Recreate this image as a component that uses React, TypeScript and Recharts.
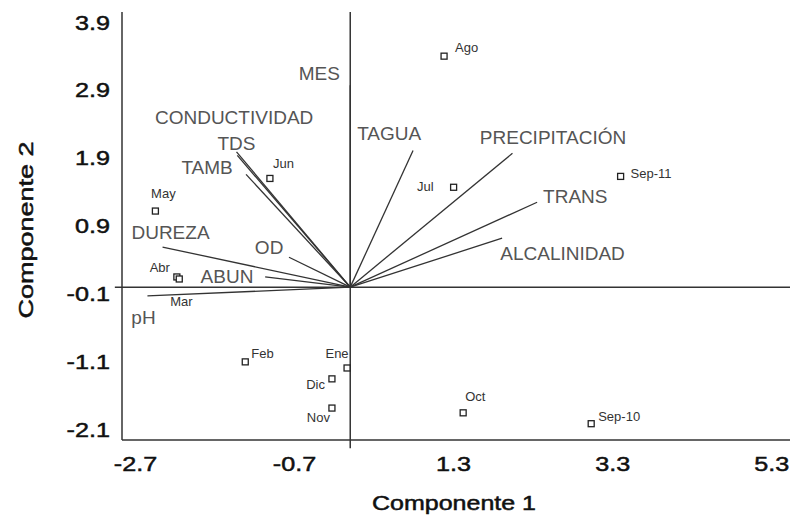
import {
  ScatterChart,
  Scatter,
  XAxis,
  YAxis,
  ReferenceLine,
  Label,
} from "recharts";

// sample scores (Componente 1, Componente 2)
const months = ["Ago", "Jun", "May", "Abr", "Mar", "Jul", "Sep-11", "Feb", "Ene", "Dic", "Nov", "Oct", "Sep-10"];
const comp1 = [1.18, -1.01, -2.45, -2.18, -2.15, 1.3, 3.4, -1.32, -0.04, -0.23, -0.23, 1.42, 3.03];
const comp2 = [3.4, 1.6, 1.12, 0.15, 0.12, 1.47, 1.63, -1.1, -1.19, -1.35, -1.78, -1.85, -2.01];

// variable loadings
const variables = ["MES", "CONDUCTIVIDAD", "TDS", "TAMB", "DUREZA", "OD", "ABUN", "pH", "TAGUA", "PRECIPITACIÓN", "TRANS", "ALCALINIDAD"];
const load1 = [0, -1.43, -1.42, -1.31, -2.36, -0.77, -1.07, -2.55, 0.79, 2.04, 2.35, 1.91];
const load2 = [2.97, 1.99, 1.94, 1.66, 0.59, 0.44, 0.15, -0.13, 2.01, 1.97, 1.25, 0.72];

// where the variable names sit (in chart units)
const labelX = [-0.39, -1.46, -1.43, -1.8, -2.26, -1.02, -1.55, -2.6, 0.49, 2.55, 2.83, 2.67];
const labelY = [3.15, 2.5, 2.12, 1.76, 0.81, 0.59, 0.16, -0.44, 2.26, 2.21, 1.34, 0.5];

const xTicks = [-2.7, -0.7, 1.3, 3.3, 5.3];
const yTicks = [3.9, 2.9, 1.9, 0.9, -0.1, -1.1, -2.1];

const points = months.map((name, i) => ({ name, x: comp1[i], y: comp2[i] }));
const varLabels = variables.map((name, i) => ({ name, x: labelX[i], y: labelY[i] }));

// label offset from the marker: dx, dy, anchor
const pointLabelOffset: Record<string, [number, number, string]> = {
  Ago: [11, -9, "start"],
  Jun: [3, -15, "start"],
  May: [8, -18, "middle"],
  Abr: [-7, -9, "end"],
  Mar: [-9, 23, "start"],
  Jul: [-20, -1, "end"],
  "Sep-11": [10, -3, "start"],
  Feb: [6, -8, "start"],
  Ene: [-10, -14, "middle"],
  Dic: [-7, 6, "end"],
  Nov: [-2, 9, "end"],
  Oct: [2, -16, "start"],
  "Sep-10": [7, -7, "start"],
};

const FONT = "'Liberation Sans', Arial, sans-serif";

const renderPoint = (props: any) => {
  const { cx, cy, payload } = props;
  const o = pointLabelOffset[payload.name] || [6, -6, "start"];
  return (
    <g>
      <rect x={cx - 3} y={cy - 3} width={6} height={6} fill="#fff" stroke="#222" strokeWidth={1.3} />
      <text
        x={cx + o[0]}
        y={cy + o[1]}
        textAnchor={o[2] as any}
        dominantBaseline="central"
        fontSize={13}
        fontFamily={FONT}
        fill="#333"
      >
        {payload.name}
      </text>
    </g>
  );
};

const renderVarLabel = (props: any) => {
  const { cx, cy, payload } = props;
  return (
    <text
      x={cx}
      y={cy}
      textAnchor="middle"
      dominantBaseline="central"
      fontSize={19}
      fontFamily={FONT}
      fill="#555"
    >
      {payload.name}
    </text>
  );
};

const XTick = (props: any) => {
  const { x, y, payload } = props;
  return (
    <text
      transform={`translate(${x},${y}) scale(1.2,1)`}
      textAnchor="middle"
      dy="0.71em"
      fontSize={21}
      fontFamily={FONT}
      fill="#111"
      stroke="#111"
      strokeWidth={0.5}
    >
      {payload.value}
    </text>
  );
};

const YTick = (props: any) => {
  const { x, y, payload } = props;
  return (
    <text
      transform={`translate(${x},${y}) scale(1.2,1)`}
      textAnchor="end"
      dy="0.35em"
      fontSize={21}
      fontFamily={FONT}
      fill="#111"
      stroke="#111"
      strokeWidth={0.5}
    >
      {payload.value}
    </text>
  );
};

export default function App() {
  return (
    <div style={{ position: "absolute", left: 0, top: 0, background: "#fff" }}>
      <ScatterChart width={790} height={523} margin={{ top: 12, right: 0, bottom: 0, left: 0 }}>
        <XAxis
          type="number"
          dataKey="x"
          domain={[-2.87, 5.53]}
          ticks={xTicks}
          allowDataOverflow
          height={83}
          tickLine={false}
          tickSize={0}
          tickMargin={16}
          tick={<XTick />}
          axisLine={{ stroke: "#333", strokeWidth: 1.5 }}
        >
          <Label
            content={(p: any) => {
              const vb = p.viewBox;
              return (
                <text
                  transform={`translate(${vb.x + vb.width / 2 - 2},${vb.y + 63}) scale(1.25,1)`}
                  textAnchor="middle"
                  dominantBaseline="central"
                  fontSize={20}
                  fontFamily={FONT}
                  fill="#111"
                  stroke="#111"
                  strokeWidth={0.5}
                >
                  Componente 1
                </text>
              );
            }}
          />
        </XAxis>
        <YAxis
          type="number"
          dataKey="y"
          domain={[-2.25, 4.05]}
          ticks={yTicks}
          allowDataOverflow
          width={122}
          tickLine={false}
          tickSize={0}
          tickMargin={12}
          tick={<YTick />}
          axisLine={{ stroke: "#333", strokeWidth: 1.5 }}
        >
          <Label
            content={() => (
              <text
                transform="translate(26,230) rotate(-90) scale(1.35,1)"
                textAnchor="middle"
                dominantBaseline="central"
                fontSize={20}
                fontFamily={FONT}
                fill="#111"
                stroke="#111"
                strokeWidth={0.5}
              >
                Componente 2
              </text>
            )}
          />
        </YAxis>
        <ReferenceLine
          segment={[{ x: -2.96, y: 0 }, { x: 5.53, y: 0 }]}
          stroke="#333"
          strokeWidth={1.5}
          ifOverflow="visible"
        />
        <ReferenceLine
          segment={[{ x: 0, y: -2.37 }, { x: 0, y: 4.05 }]}
          stroke="#333"
          strokeWidth={1.5}
          ifOverflow="visible"
        />
        {variables.map((v, i) => (
          <ReferenceLine
            key={v}
            segment={[{ x: 0, y: 0 }, { x: load1[i], y: load2[i] }]}
            stroke="#333"
            strokeWidth={1.3}
          />
        ))}
        <Scatter data={varLabels} shape={renderVarLabel} isAnimationActive={false} />
        <Scatter data={points} shape={renderPoint} isAnimationActive={false} />
      </ScatterChart>
    </div>
  );
}
